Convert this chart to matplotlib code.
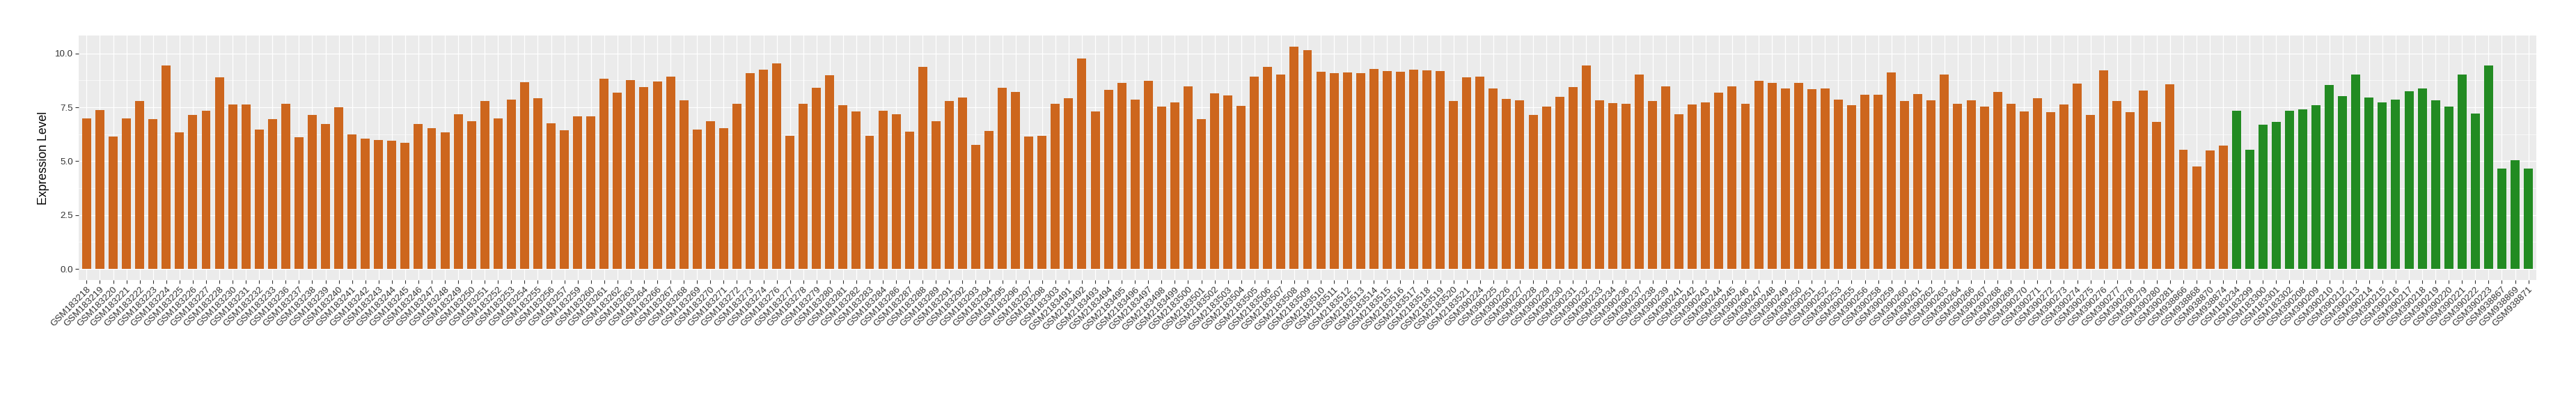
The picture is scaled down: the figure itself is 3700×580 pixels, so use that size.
import matplotlib.pyplot as plt
import numpy as np
from matplotlib.ticker import MultipleLocator

# samples of the first group (orange)
orange_ids = ['GSM183218', 'GSM183219', 'GSM183220', 'GSM183221', 'GSM183222', 'GSM183223', 'GSM183224',
	'GSM183225', 'GSM183226', 'GSM183227', 'GSM183228', 'GSM183230', 'GSM183231', 'GSM183232', 'GSM183233',
	'GSM183236', 'GSM183237', 'GSM183238', 'GSM183239', 'GSM183240', 'GSM183241', 'GSM183242', 'GSM183243',
	'GSM183244', 'GSM183245', 'GSM183246', 'GSM183247', 'GSM183248', 'GSM183249', 'GSM183250', 'GSM183251',
	'GSM183252', 'GSM183253', 'GSM183254', 'GSM183255', 'GSM183256', 'GSM183257', 'GSM183259', 'GSM183260',
	'GSM183261', 'GSM183262', 'GSM183263', 'GSM183264', 'GSM183266', 'GSM183267', 'GSM183268', 'GSM183269',
	'GSM183270', 'GSM183271', 'GSM183272', 'GSM183273', 'GSM183274', 'GSM183276', 'GSM183277', 'GSM183278',
	'GSM183279', 'GSM183280', 'GSM183281', 'GSM183282', 'GSM183283', 'GSM183284', 'GSM183286', 'GSM183287',
	'GSM183288', 'GSM183289', 'GSM183291', 'GSM183292', 'GSM183293', 'GSM183294', 'GSM183295', 'GSM183296',
	'GSM183297', 'GSM183298', 'GSM183303',
	'GSM2183491', 'GSM2183492', 'GSM2183493', 'GSM2183494', 'GSM2183495', 'GSM2183496', 'GSM2183497',
	'GSM2183498', 'GSM2183499', 'GSM2183500', 'GSM2183501', 'GSM2183502', 'GSM2183503', 'GSM2183504',
	'GSM2183505', 'GSM2183506', 'GSM2183507', 'GSM2183508', 'GSM2183509', 'GSM2183510', 'GSM2183511',
	'GSM2183512', 'GSM2183513', 'GSM2183514', 'GSM2183515', 'GSM2183516', 'GSM2183517', 'GSM2183518',
	'GSM2183519', 'GSM2183520', 'GSM2183521',
	'GSM390224', 'GSM390225', 'GSM390226', 'GSM390227', 'GSM390228', 'GSM390229', 'GSM390230', 'GSM390231',
	'GSM390232', 'GSM390233', 'GSM390234', 'GSM390236', 'GSM390237', 'GSM390238', 'GSM390239', 'GSM390241',
	'GSM390242', 'GSM390243', 'GSM390244', 'GSM390245', 'GSM390246', 'GSM390247', 'GSM390248', 'GSM390249',
	'GSM390250', 'GSM390251', 'GSM390252', 'GSM390253', 'GSM390255', 'GSM390256', 'GSM390258', 'GSM390259',
	'GSM390260', 'GSM390261', 'GSM390262', 'GSM390263', 'GSM390264', 'GSM390266', 'GSM390267', 'GSM390268',
	'GSM390269', 'GSM390270', 'GSM390271', 'GSM390272', 'GSM390273', 'GSM390274', 'GSM390275', 'GSM390276',
	'GSM390277', 'GSM390278', 'GSM390279', 'GSM390280', 'GSM390281',
	'GSM938866', 'GSM938868', 'GSM938870', 'GSM938874']

orange_vals = [6.98, 7.39, 6.16, 6.98, 7.80, 6.95, 9.45, 6.34, 7.15, 7.35, 8.89, 7.65, 7.65, 6.48, 6.95,
	7.68, 6.11, 7.15, 6.72, 7.51, 6.25, 6.05, 5.99, 5.96, 5.85, 6.74, 6.54, 6.34, 7.18, 6.86, 7.80,
	6.98, 7.85, 8.67, 7.91, 6.77, 6.43, 7.10, 7.10, 8.84, 8.17, 8.78, 8.43, 8.70, 8.92, 7.82, 6.48,
	6.86, 6.54, 7.68, 9.08, 9.25, 9.54, 6.19, 7.68, 8.41, 8.99, 7.59, 7.32, 6.19, 7.35, 7.18, 6.37,
	9.37, 6.86, 7.80, 7.97, 5.76, 6.40, 8.41, 8.23, 6.14, 6.19, 7.68,
	7.94, 9.77, 7.32, 8.31, 8.63, 7.85, 8.72, 7.53, 7.73, 8.46, 6.95, 8.14, 8.05, 7.56, 8.92, 9.39,
	9.01, 10.32, 10.15, 9.16, 9.10, 9.13, 9.08, 9.28, 9.19, 9.16, 9.25, 9.22, 9.19, 7.80, 8.89,
	8.92, 8.38, 7.88, 7.82, 7.15, 7.53, 8.00, 8.43, 9.45, 7.82, 7.71, 7.68, 9.01, 7.80, 8.46, 7.18,
	7.65, 7.73, 8.17, 8.46, 7.68, 8.72, 8.63, 8.38, 8.63, 8.34, 8.38, 7.85, 7.59, 8.09, 8.09, 9.13,
	7.80, 8.11, 7.82, 9.01, 7.68, 7.82, 7.53, 8.23, 7.68, 7.30, 7.94, 7.27, 7.62, 8.60, 7.15, 9.22,
	7.80, 7.27, 8.29, 6.84, 8.58,
	5.53, 4.77, 5.49, 5.73]

# samples of the second group (green)
green_ids = ['GSM183234', 'GSM183299', 'GSM183300', 'GSM183301', 'GSM183302', 'GSM390208', 'GSM390209',
	'GSM390210', 'GSM390212', 'GSM390213', 'GSM390214', 'GSM390215', 'GSM390216', 'GSM390217', 'GSM390218',
	'GSM390219', 'GSM390220', 'GSM390221', 'GSM390222', 'GSM390223', 'GSM938867', 'GSM938869', 'GSM938871']

green_vals = [7.35, 5.53, 6.69, 6.84, 7.35, 7.42, 7.59, 8.55, 8.02, 9.04, 7.97, 7.73, 7.85, 8.26, 8.38,
	7.82, 7.53, 9.04, 7.22, 9.45, 4.66, 5.06, 4.66]

orange = '#CD661D'
green = '#228B22'

labels = orange_ids + green_ids
vals = orange_vals + green_vals
colors = [orange]*len(orange_ids) + [green]*len(green_ids)
n = len(labels)
x = np.arange(n)

plt.rcParams['font.family'] = ['Liberation Sans', 'DejaVu Sans']

fig = plt.figure(figsize=(37, 5.8), dpi=100)
ax = fig.add_axes([113/3700, 1-402/580, (3643-113)/3700, (402-51)/580])
ax.set_facecolor('#EBEBEB')

ax.bar(x, vals, width=0.68, color=colors, zorder=3)

ymax = max(vals)
ax.set_ylim(-0.05*ymax, ymax*1.05)
ax.set_xlim(-0.6, n-1+0.6)

ax.yaxis.set_major_locator(MultipleLocator(2.5))
ax.yaxis.set_minor_locator(MultipleLocator(1.25))
ax.grid(which='major', axis='both', color='white', linewidth=0.9, zorder=1)
ax.grid(which='minor', axis='y', color='white', linewidth=0.45, zorder=1)
ax.set_axisbelow(True)
for s in ax.spines.values():
	s.set_visible(False)

ax.set_xticks(x)
ax.set_xticklabels(labels, rotation=45, ha='right', va='top', rotation_mode='anchor',
	fontsize=9.6, color='#333333')
ax.set_yticks([0, 2.5, 5, 7.5, 10])
ax.set_yticklabels(['0.0', '2.5', '5.0', '7.5', '10.0'], fontsize=9.6, color='#333333')
ax.tick_params(axis='both', which='major', length=3.5, width=0.8, color='#333333', pad=2)
ax.tick_params(axis='y', which='minor', length=0)

ax.set_ylabel('Expression Level', fontsize=12.7, labelpad=6)

fig.savefig('out.png', dpi=100)
